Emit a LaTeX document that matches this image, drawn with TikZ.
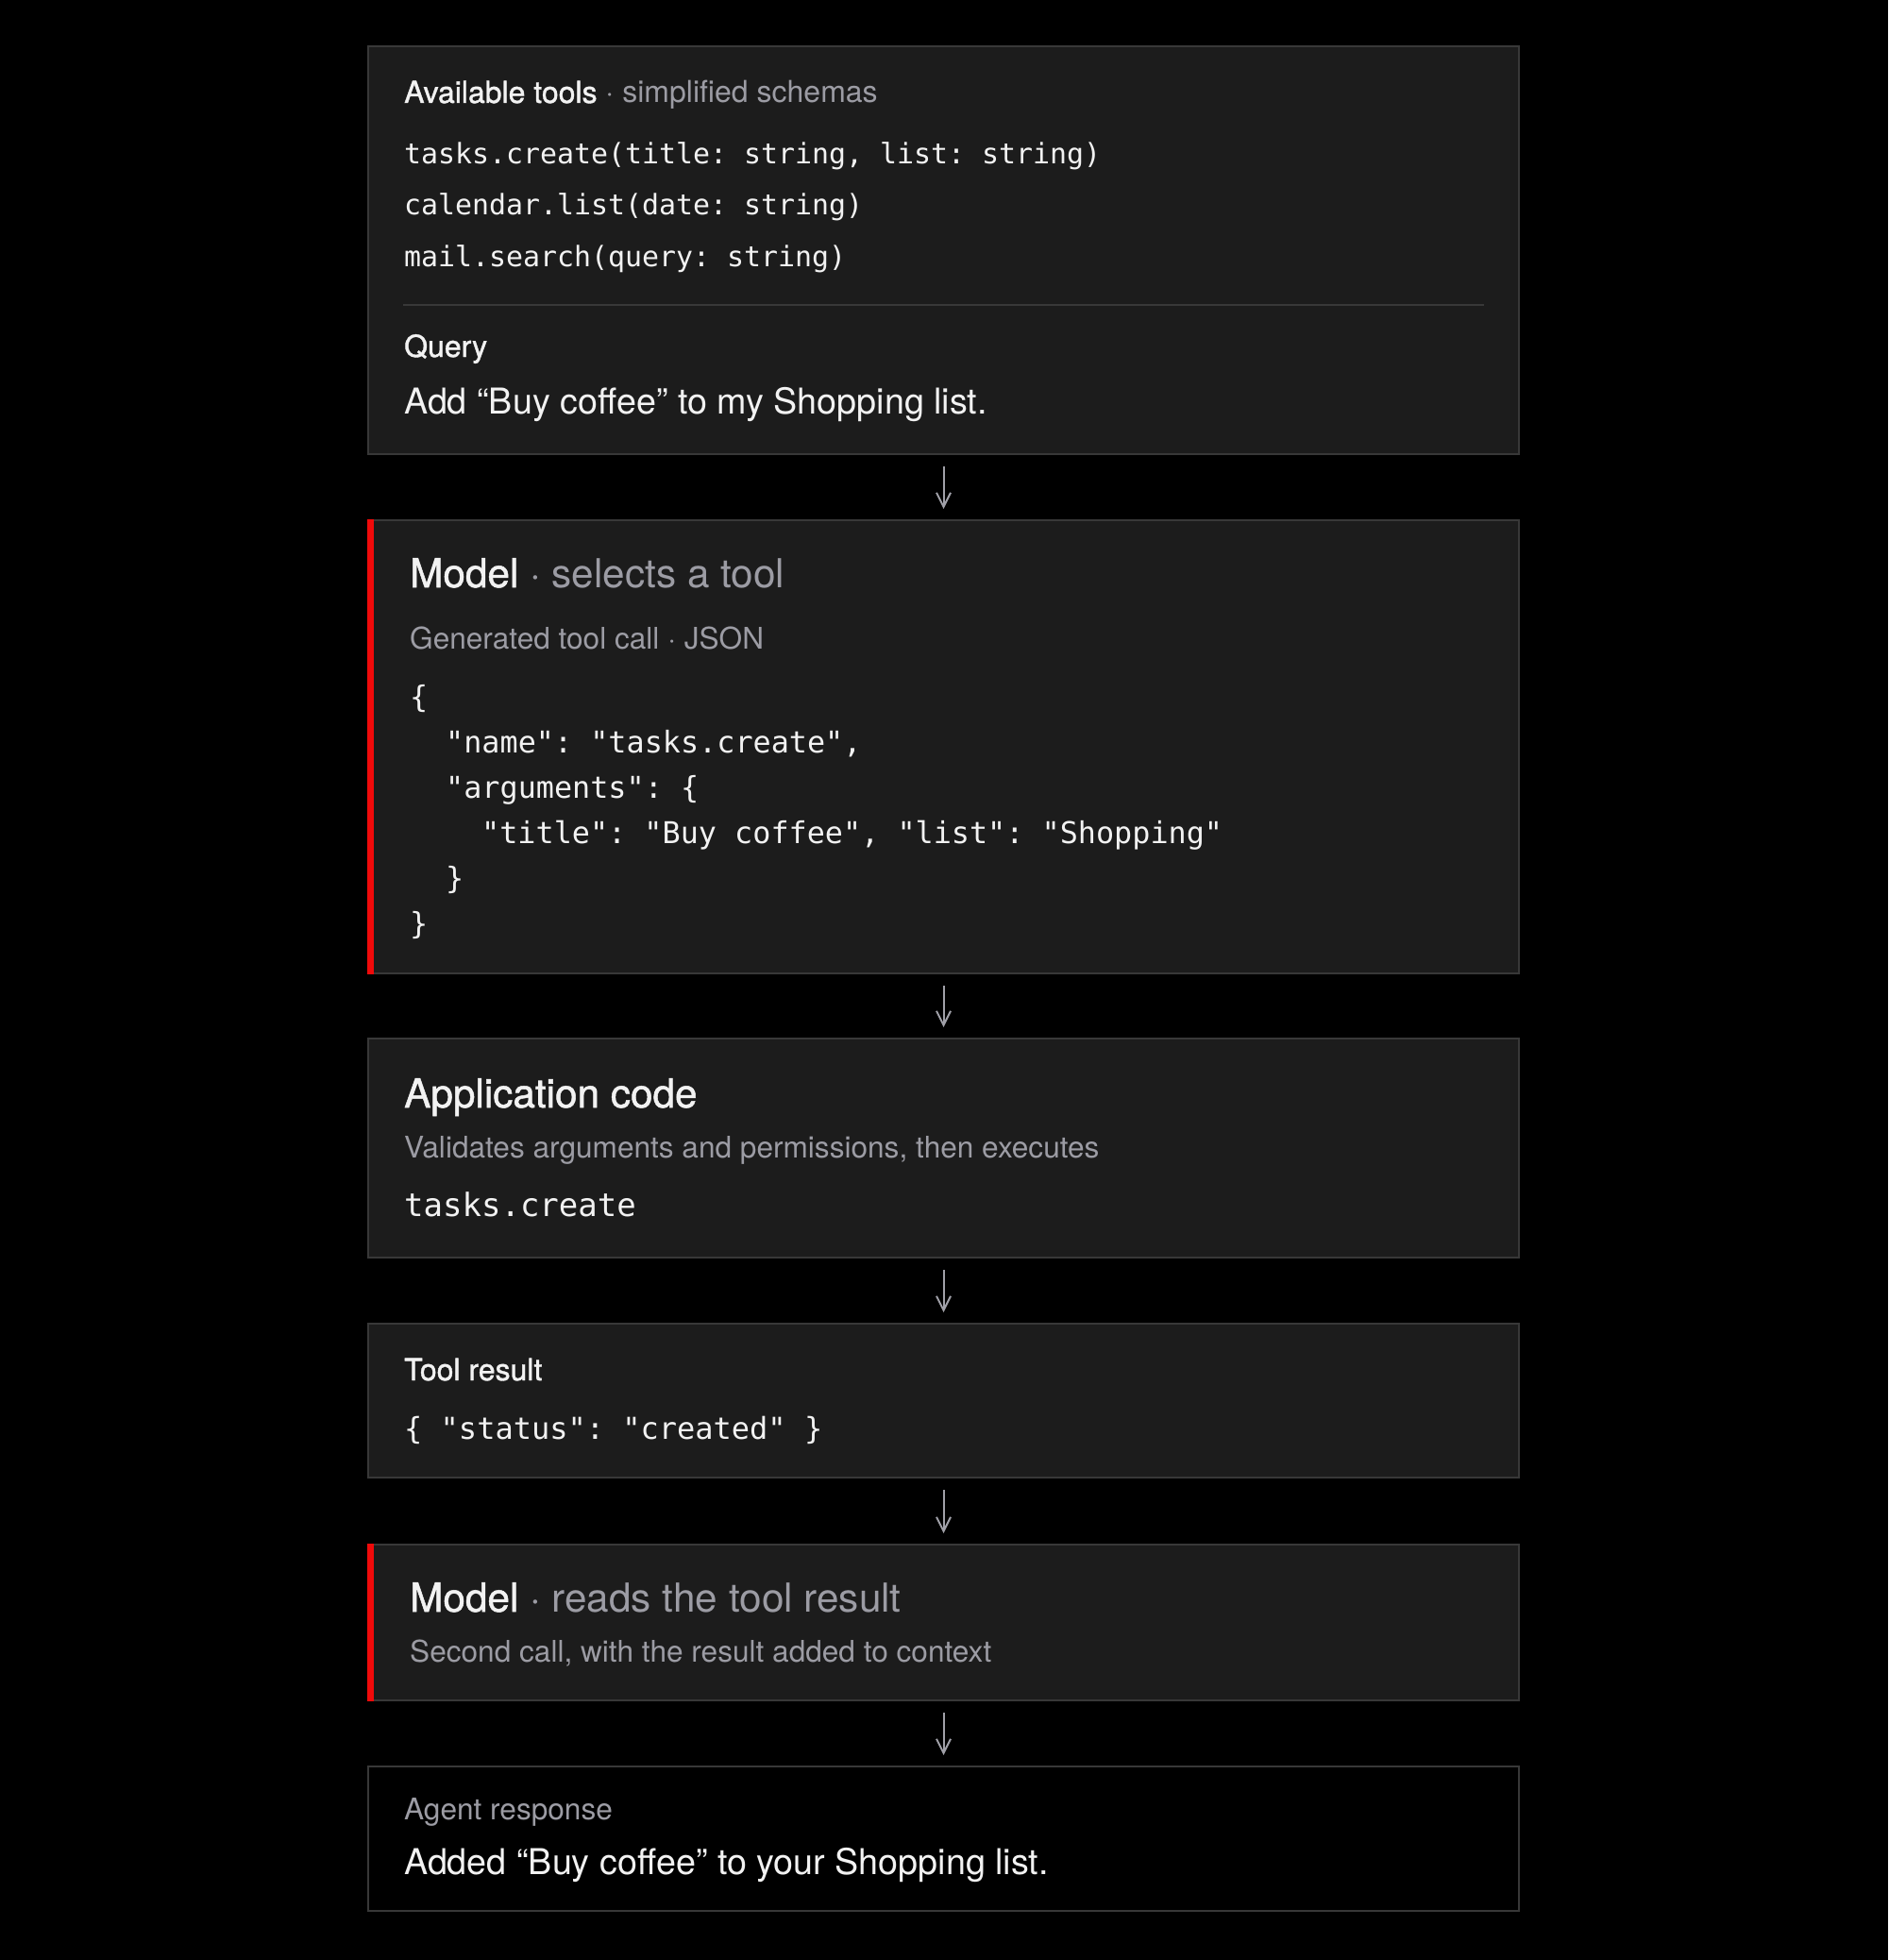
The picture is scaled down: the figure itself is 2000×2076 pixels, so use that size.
\documentclass[tikz,border=0pt]{standalone}
\usepackage{fontspec}
\setmainfont{TeX Gyre Heros}
\setmonofont{DejaVu Sans Mono}
\newfontfamily\mediumfont{TeX Gyre Heros}[FakeBold=1.2]
\usepackage{tikz}
\usetikzlibrary{arrows.meta}
\definecolor{panelfill}{HTML}{1C1C1C}
\definecolor{panelline}{HTML}{383838}
\definecolor{ink}{HTML}{F2F2F2}
\definecolor{muted}{HTML}{9C9CA4}
\definecolor{accent}{HTML}{F00A0A}
\definecolor{arrowgrey}{HTML}{A0A0A8}
\tikzstyle{panel}=[draw=panelline,line width=2pt,fill=panelfill,inner sep=0pt,minimum width=1219pt]
\tikzstyle{txt}=[inner sep=0pt,anchor=base west,text=ink]
\tikzstyle{labeltxt}=[txt,font=\mediumfont\fontsize{32}{38}\selectfont]
\tikzstyle{notetxt}=[txt,text=muted,font=\fontsize{31.6}{38}\selectfont]
\tikzstyle{bodytxt}=[txt,font=\fontsize{37.7}{45}\selectfont]
\tikzstyle{headtxt}=[txt,font=\mediumfont\fontsize{42.3}{50}\selectfont]
\tikzstyle{schema}=[txt,font=\ttfamily\fontsize{29.9}{36}\selectfont\frenchspacing]
\tikzstyle{json}=[txt,font=\ttfamily\fontsize{31.8}{38}\selectfont\frenchspacing]
\tikzstyle{callname}=[txt,font=\ttfamily\fontsize{34}{41}\selectfont\frenchspacing]
\tikzstyle{rescode}=[txt,font=\ttfamily\fontsize{32}{38}\selectfont\frenchspacing]
\tikzstyle{flow}=[draw=arrowgrey,line width=2pt,-{Straight Barb[length=15pt,width=15pt]}]

\begin{document}
\begin{tikzpicture}[x=1pt,y=-1pt]
    \fill [black] (0,0) rectangle (2000,2076);
    \useasboundingbox (0,0) rectangle (2000,2076);
    % panels
    \node [panel,minimum height=432pt] (tools)  at (999.5,265)    {};
    \node [panel,minimum height=480pt] (select) at (999.5,791)    {};
    \node [panel,minimum height=232pt] (app)    at (999.5,1216)   {};
    \node [panel,minimum height=163pt] (result) at (999.5,1483.5) {};
    \node [panel,minimum height=165pt] (reads)  at (999.5,1718.5) {};
    \node [panel,minimum height=153pt,fill=black] (reply) at (999.5,1947.5) {};
    \fill [accent] (select.north west) rectangle ([xshift=7pt]select.south west);
    \fill [accent] (reads.north west) rectangle ([xshift=7pt]reads.south west);
    \draw [panelline,line width=2pt] (427,323) -- (1572,323);
    % arrows
    \draw [flow] ([yshift=-12pt]tools.south)  -- ([yshift=11pt]select.north);
    \draw [flow] ([yshift=-12pt]select.south) -- ([yshift=11pt]app.north);
    \draw [flow] ([yshift=-12pt]app.south)    -- ([yshift=11pt]result.north);
    \draw [flow] ([yshift=-12pt]result.south) -- ([yshift=11pt]reads.north);
    \draw [flow] ([yshift=-12pt]reads.south)  -- ([yshift=11pt]reply.north);
    % tools and query
    \node [labeltxt] (toolshead) at (428,109) {Available tools \textcolor{muted}{\rmfamily· simplified schemas}};
    \node [schema] (sig1) at (428,174) {tasks.create(title: string, list: string)};
    \node [schema] (sig2) at (428,228) {calendar.list(date: string)};
    \node [schema] (sig3) at (428,282) {mail.search(query: string)};
    \node [labeltxt] (queryhead) at (428,378) {Query};
    \node [bodytxt] (query) at (428,438) {Add “Buy coffee” to my Shopping list.};
    % model selects
    \node [headtxt] (selhead) at (434,622) {Model \textcolor{muted}{\rmfamily· selects a tool}};
    \node [notetxt] (selnote) at (434,687) {Generated tool call · JSON};
    \node [json] (j1) at (434,749) {\{};
    \node [json] (j2) at (472,797) {"name": "tasks.create",};
    \node [json] (j3) at (472,845) {"arguments": \{};
    \node [json] (j4) at (510,893) {"title": "Buy coffee", "list": "Shopping"};
    \node [json] (j5) at (472,941) {\}};
    \node [json] (j6) at (434,989) {\}};
    % application
    \node [headtxt] (apphead) at (428,1173) {Application code};
    \node [notetxt] (appnote) at (428,1226) {Validates arguments and permissions, then executes};
    \node [callname] (appcall) at (428,1288) {tasks.create};
    % result
    \node [labeltxt] (reshead) at (428,1462) {Tool result};
    \node [rescode] (rescode) at (428,1524) {\{ "status": "created" \}};
    % model reads
    \node [headtxt] (readhead) at (434,1707) {Model \textcolor{muted}{\rmfamily· reads the tool result}};
    \node [notetxt] (readnote) at (434,1760) {Second call, with the result added to context};
    % response
    \node [notetxt] (replyhead) at (428,1927) {Agent response};
    \node [bodytxt] (replytext) at (428,1985) {Added “Buy coffee” to your Shopping list.};
\end{tikzpicture}
\end{document}
